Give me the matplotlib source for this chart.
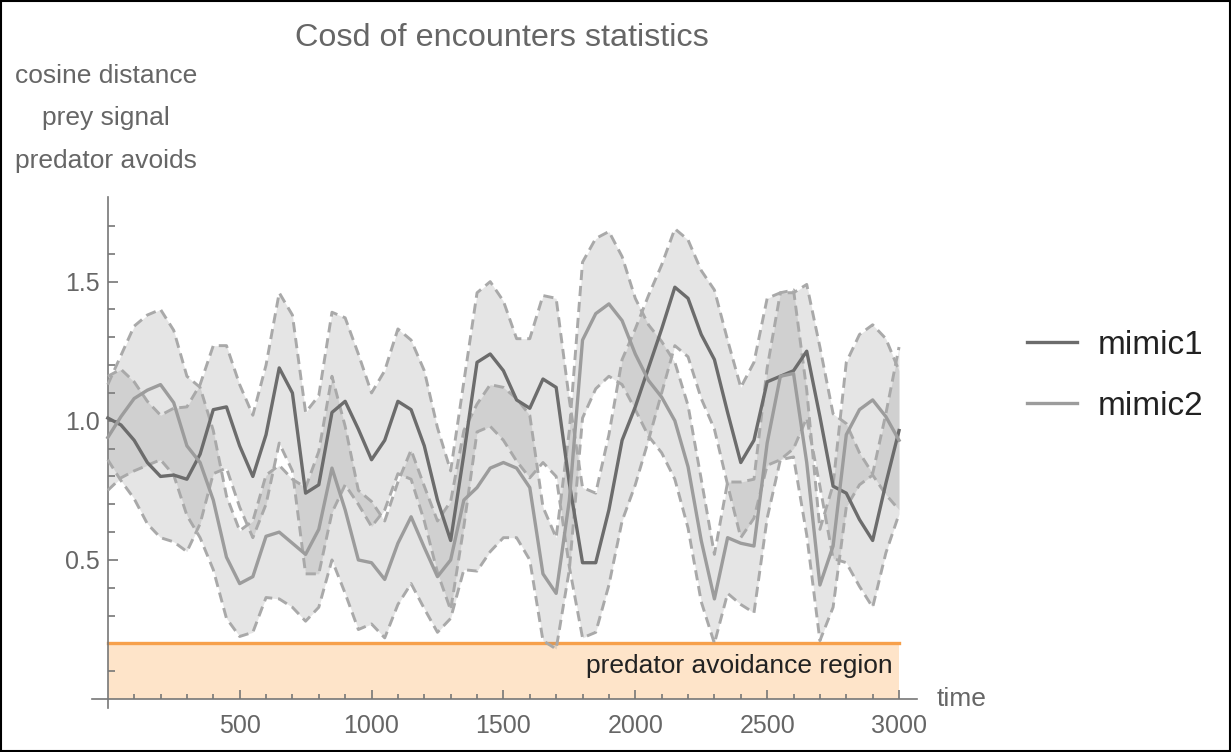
# Cosd of encounters statistics: mean +/- sd bands for two mimics
import matplotlib.pyplot as plt
import matplotlib.patches as patches
import numpy as np

plt.rcParams['font.family'] = ['Liberation Sans', 'DejaVu Sans']

time = np.arange(0, 3001, 50)

mimic1_mean = [1.01, 0.985, 0.93, 0.85, 0.80, 0.805, 0.79, 0.88, 1.04, 1.05,
               0.91, 0.80, 0.95, 1.19, 1.10, 0.74, 0.77, 1.03, 1.07, 0.97,
               0.86, 0.93, 1.07, 1.04, 0.91, 0.715, 0.57, 0.88, 1.21, 1.24,
               1.18, 1.075, 1.045, 1.15, 1.12, 0.775, 0.49, 0.49, 0.68, 0.93,
               1.05, 1.19, 1.33, 1.48, 1.44, 1.31, 1.22, 1.03, 0.85, 0.93,
               1.14, 1.16, 1.18, 1.25, 1.015, 0.765, 0.74, 0.645, 0.57, 0.775,
               0.965]
mimic1_sd = [0.15, 0.20, 0.21, 0.22, 0.22, 0.24, 0.26, 0.25, 0.23, 0.22,
             0.22, 0.22, 0.25, 0.27, 0.28, 0.29, 0.32, 0.36, 0.30, 0.27,
             0.24, 0.25, 0.26, 0.25, 0.27, 0.26, 0.25, 0.26, 0.25, 0.26,
             0.25, 0.22, 0.25, 0.30, 0.32, 0.30, 0.27, 0.25, 0.27, 0.29,
             0.28, 0.26, 0.23, 0.21, 0.21, 0.23, 0.25, 0.26, 0.27, 0.28,
             0.30, 0.30, 0.28, 0.24, 0.25, 0.26, 0.25, 0.24, 0.24, 0.25,
             0.30]

mimic2_mean = [0.94, 1.015, 1.08, 1.11, 1.13, 1.065, 0.91, 0.85, 0.715, 0.51,
               0.415, 0.44, 0.585, 0.60, 0.56, 0.52, 0.61, 0.83, 0.68, 0.50,
               0.49, 0.43, 0.56, 0.655, 0.545, 0.44, 0.50, 0.715, 0.76, 0.83,
               0.85, 0.83, 0.76, 0.45, 0.38, 0.715, 1.29, 1.385, 1.42, 1.36,
               1.24, 1.145, 1.085, 1.00, 0.835, 0.57, 0.36, 0.58, 0.56, 0.55,
               0.92, 1.16, 1.17, 0.85, 0.41, 0.55, 0.95, 1.04, 1.075, 1.015,
               0.93]
mimic2_sd = [0.19, 0.22, 0.26, 0.27, 0.27, 0.26, 0.25, 0.27, 0.25, 0.22,
             0.19, 0.20, 0.22, 0.24, 0.23, 0.24, 0.28, 0.33, 0.30, 0.25,
             0.22, 0.21, 0.22, 0.24, 0.22, 0.20, 0.21, 0.25, 0.30, 0.30,
             0.27, 0.25, 0.26, 0.24, 0.20, 0.25, 0.28, 0.27, 0.26, 0.23,
             0.20, 0.20, 0.20, 0.21, 0.22, 0.22, 0.16, 0.20, 0.22, 0.24,
             0.27, 0.30, 0.30, 0.26, 0.20, 0.22, 0.26, 0.27, 0.27, 0.28,
             0.25]

series = [("mimic1", mimic1_mean, mimic1_sd, "#6c6c6c"),
          ("mimic2", mimic2_mean, mimic2_sd, "#9c9c9c")]

avoid_level = 0.2
label_lines = ["cosine distance", "prey signal", "predator avoids"]

fig = plt.figure(figsize=(12.31, 7.52), dpi=100)
ax = fig.add_axes([0.0747, 0.0585, 0.6702, 0.6795])

# predator avoidance region
ax.fill_between([0, 3000], 0, avoid_level, color="#fee4c9", lw=0, zorder=1)
ax.plot([0, 3000], [avoid_level, avoid_level], color="#f7a04b", lw=2.4, zorder=2)
ax.text(2977, 0.118, "predator avoidance region", ha="right", va="center",
        fontsize=19, color="#222222", zorder=3)

handles = []
for name, m, s, c in series:
    m = np.array(m)
    s = np.array(s)
    ax.fill_between(time, m - s, m + s, color="#808080", alpha=0.2, lw=0, zorder=3)
    for edge in (m - s, m + s):
        ax.plot(time, edge, color="#a9a9a9", lw=2.1, ls=(0, (3.5, 2)), zorder=4,
                solid_joinstyle="round", dash_joinstyle="round")
for name, m, s, c in series:
    h, = ax.plot(time, m, color=c, lw=2.4, zorder=5, label=name,
                 solid_joinstyle="round")
    handles.append(h)

ax.set_xlim(-60, 3068)
ax.set_ylim(-0.032, 1.804)

for side in ["top", "right"]:
    ax.spines[side].set_visible(False)
ax.spines["left"].set_position(("data", 0))
ax.spines["bottom"].set_position(("data", 0))
for side in ["left", "bottom"]:
    ax.spines[side].set_color("#777777")
    ax.spines[side].set_linewidth(1.2)

ax.set_xticks([500, 1000, 1500, 2000, 2500, 3000])
ax.set_xticks(np.arange(100, 3001, 100), minor=True)
ax.set_yticks([0.5, 1.0, 1.5])
ax.set_yticklabels(["0.5", "1.0", "1.5"])
ax.set_yticks(np.arange(0.1, 1.75, 0.1), minor=True)
ax.tick_params(which="both", direction="in", color="#777777", width=1.2,
               labelcolor="#666666", labelsize=18)
ax.tick_params(axis="x", which="major", length=6.5, pad=11)
ax.tick_params(axis="x", which="minor", length=3.5)
ax.tick_params(axis="y", which="major", length=7.5, pad=6)
ax.tick_params(axis="y", which="minor", length=5)

ax.text(3144, 0, "time", ha="left", va="center", fontsize=19, color="#666666",
        clip_on=False)

fig.text(502 / 1231, 1 - 38 / 752, "Cosd of encounters statistics", ha="center",
         va="center", fontsize=23.3, color="#666666")
for i, line in enumerate(label_lines):
    fig.text(106 / 1231, 1 - (76 + 42.5 * i) / 752, line, ha="center", va="center",
             fontsize=19, color="#666666")

ax.legend(handles=handles, loc="center left", frameon=False, fontsize=24,
          bbox_to_anchor=(1027 / 1231, 1 - 376 / 752), bbox_transform=fig.transFigure,
          borderpad=0, borderaxespad=0, handlelength=1.5, handletextpad=0.63,
          labelspacing=0.9, labelcolor="#222222")

fig.add_artist(patches.Rectangle((0.0008, 0.0013), 0.9984, 0.9974, fill=False,
                                 ec="black", lw=1.5, transform=fig.transFigure))

fig.savefig("out.png", dpi=100)
